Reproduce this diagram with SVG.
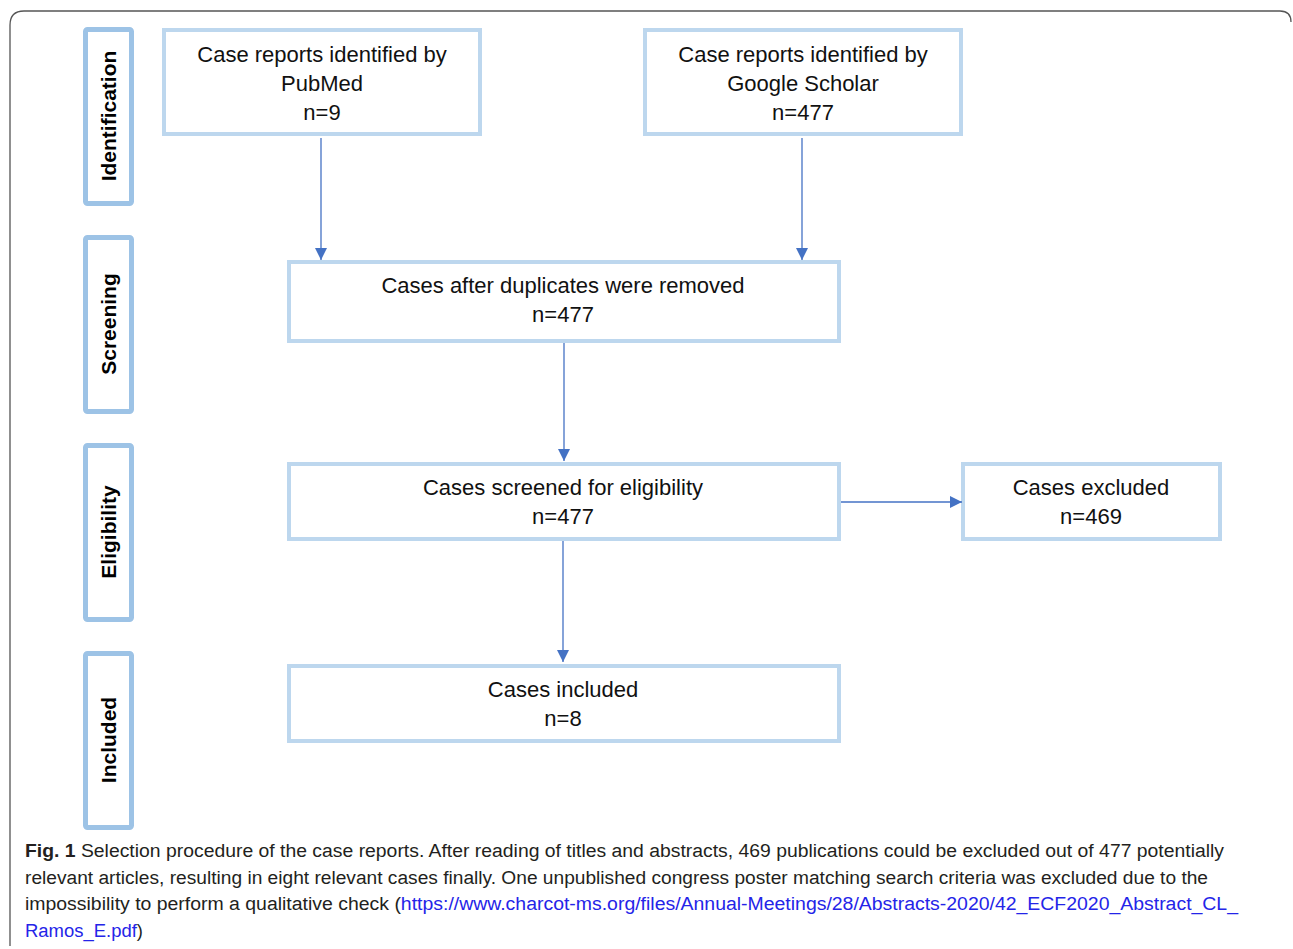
<svg xmlns="http://www.w3.org/2000/svg" width="1293" height="949" viewBox="0 0 1293 949">
<style>
.frame{fill:none;stroke:#555;stroke-width:1.3}
.phase{fill:#fff;stroke:#9DC3E6;stroke-width:5}
.box{fill:#fff;stroke:#BDD7EE;stroke-width:4}
.pt{font-family:"Liberation Sans",Arial,sans-serif;font-weight:bold;font-size:21px;fill:#000;text-anchor:middle}
.bt{font-family:"Liberation Sans",Arial,sans-serif;font-size:22px;fill:#111;text-anchor:middle}
.conn{stroke:#4472C4;stroke-width:1.3;fill:none}
.cap{font-family:"Liberation Sans",Arial,sans-serif;font-size:18px;fill:#231F20}
.link{fill:#2424E8}
</style>
<defs>
<marker id="ah" viewBox="0 0 12 12" refX="12" refY="6" markerWidth="12" markerHeight="12" markerUnits="userSpaceOnUse" orient="auto">
<path d="M0,0 L12,6 L0,12 Z" fill="#4472C4"/>
</marker>
</defs>
<path class="frame" d="M10,946 L10,25 Q10,11 24,11 L1280,11 Q1291,11 1291,22"/>
<g id="phase-identification"><rect class="phase" x="85.5" y="29.5" width="46" height="174" rx="2"/><text class="pt" transform="translate(115.5,116) rotate(-90)">Identification</text></g>
<g id="phase-screening"><rect class="phase" x="85.5" y="237.5" width="46" height="174" rx="2"/><text class="pt" transform="translate(115.5,324) rotate(-90)">Screening</text></g>
<g id="phase-eligibility"><rect class="phase" x="85.5" y="445.5" width="46" height="174" rx="2"/><text class="pt" transform="translate(115.5,532) rotate(-90)">Eligibility</text></g>
<g id="phase-included"><rect class="phase" x="85.5" y="653.5" width="46" height="174" rx="2"/><text class="pt" transform="translate(115.5,740) rotate(-90)">Included</text></g>
<g id="node-pubmed"><rect class="box" x="164" y="30" width="316" height="104"/><text class="bt" x="322" y="62">Case reports identified by</text><text class="bt" x="322" y="91">PubMed</text><text class="bt" x="322" y="120">n=9</text></g>
<g id="node-scholar"><rect class="box" x="645" y="30" width="316" height="104"/><text class="bt" x="803" y="62">Case reports identified by</text><text class="bt" x="803" y="91">Google Scholar</text><text class="bt" x="803" y="120">n=477</text></g>
<g id="node-dup"><rect class="box" x="289" y="262" width="550" height="79"/><text class="bt" x="563" y="293">Cases after duplicates were removed</text><text class="bt" x="563" y="322">n=477</text></g>
<g id="node-screened"><rect class="box" x="289" y="464" width="550" height="75"/><text class="bt" x="563" y="495">Cases screened for eligibility</text><text class="bt" x="563" y="524">n=477</text></g>
<g id="node-excluded"><rect class="box" x="963" y="464" width="257" height="75"/><text class="bt" x="1091" y="495">Cases excluded</text><text class="bt" x="1091" y="524">n=469</text></g>
<g id="node-included"><rect class="box" x="289" y="666" width="550" height="75"/><text class="bt" x="563" y="697">Cases included</text><text class="bt" x="563" y="726">n=8</text></g>
<g id="connectors">
<line class="conn" x1="321" y1="138" x2="321" y2="260" marker-end="url(#ah)"/>
<line class="conn" x1="802" y1="138" x2="802" y2="260" marker-end="url(#ah)"/>
<line class="conn" x1="564" y1="343" x2="564" y2="461" marker-end="url(#ah)"/>
<line class="conn" x1="563" y1="541" x2="563" y2="662" marker-end="url(#ah)"/>
<line class="conn" x1="841" y1="502" x2="962" y2="502" marker-end="url(#ah)"/>
</g>
<g id="caption">
<text class="cap" x="25" y="857" textLength="1199" lengthAdjust="spacingAndGlyphs"><tspan font-weight="bold">Fig. 1</tspan>  Selection procedure of the case reports. After reading of titles and abstracts, 469 publications could be excluded out of 477 potentially</text>
<text class="cap" x="25" y="884" textLength="1183" lengthAdjust="spacingAndGlyphs">relevant articles, resulting in eight relevant cases finally. One unpublished congress poster matching search criteria was excluded due to the</text>
<text class="cap" x="25" y="910" textLength="1213" lengthAdjust="spacingAndGlyphs">impossibility to perform a qualitative check (<tspan class="link">https://www.charcot-ms.org/files/Annual-Meetings/28/Abstracts-2020/42_ECF2020_Abstract_CL_</tspan></text>
<text class="cap" x="25" y="937" textLength="118" lengthAdjust="spacingAndGlyphs"><tspan class="link">Ramos_E.pdf</tspan>)</text>
</g>
</svg>
